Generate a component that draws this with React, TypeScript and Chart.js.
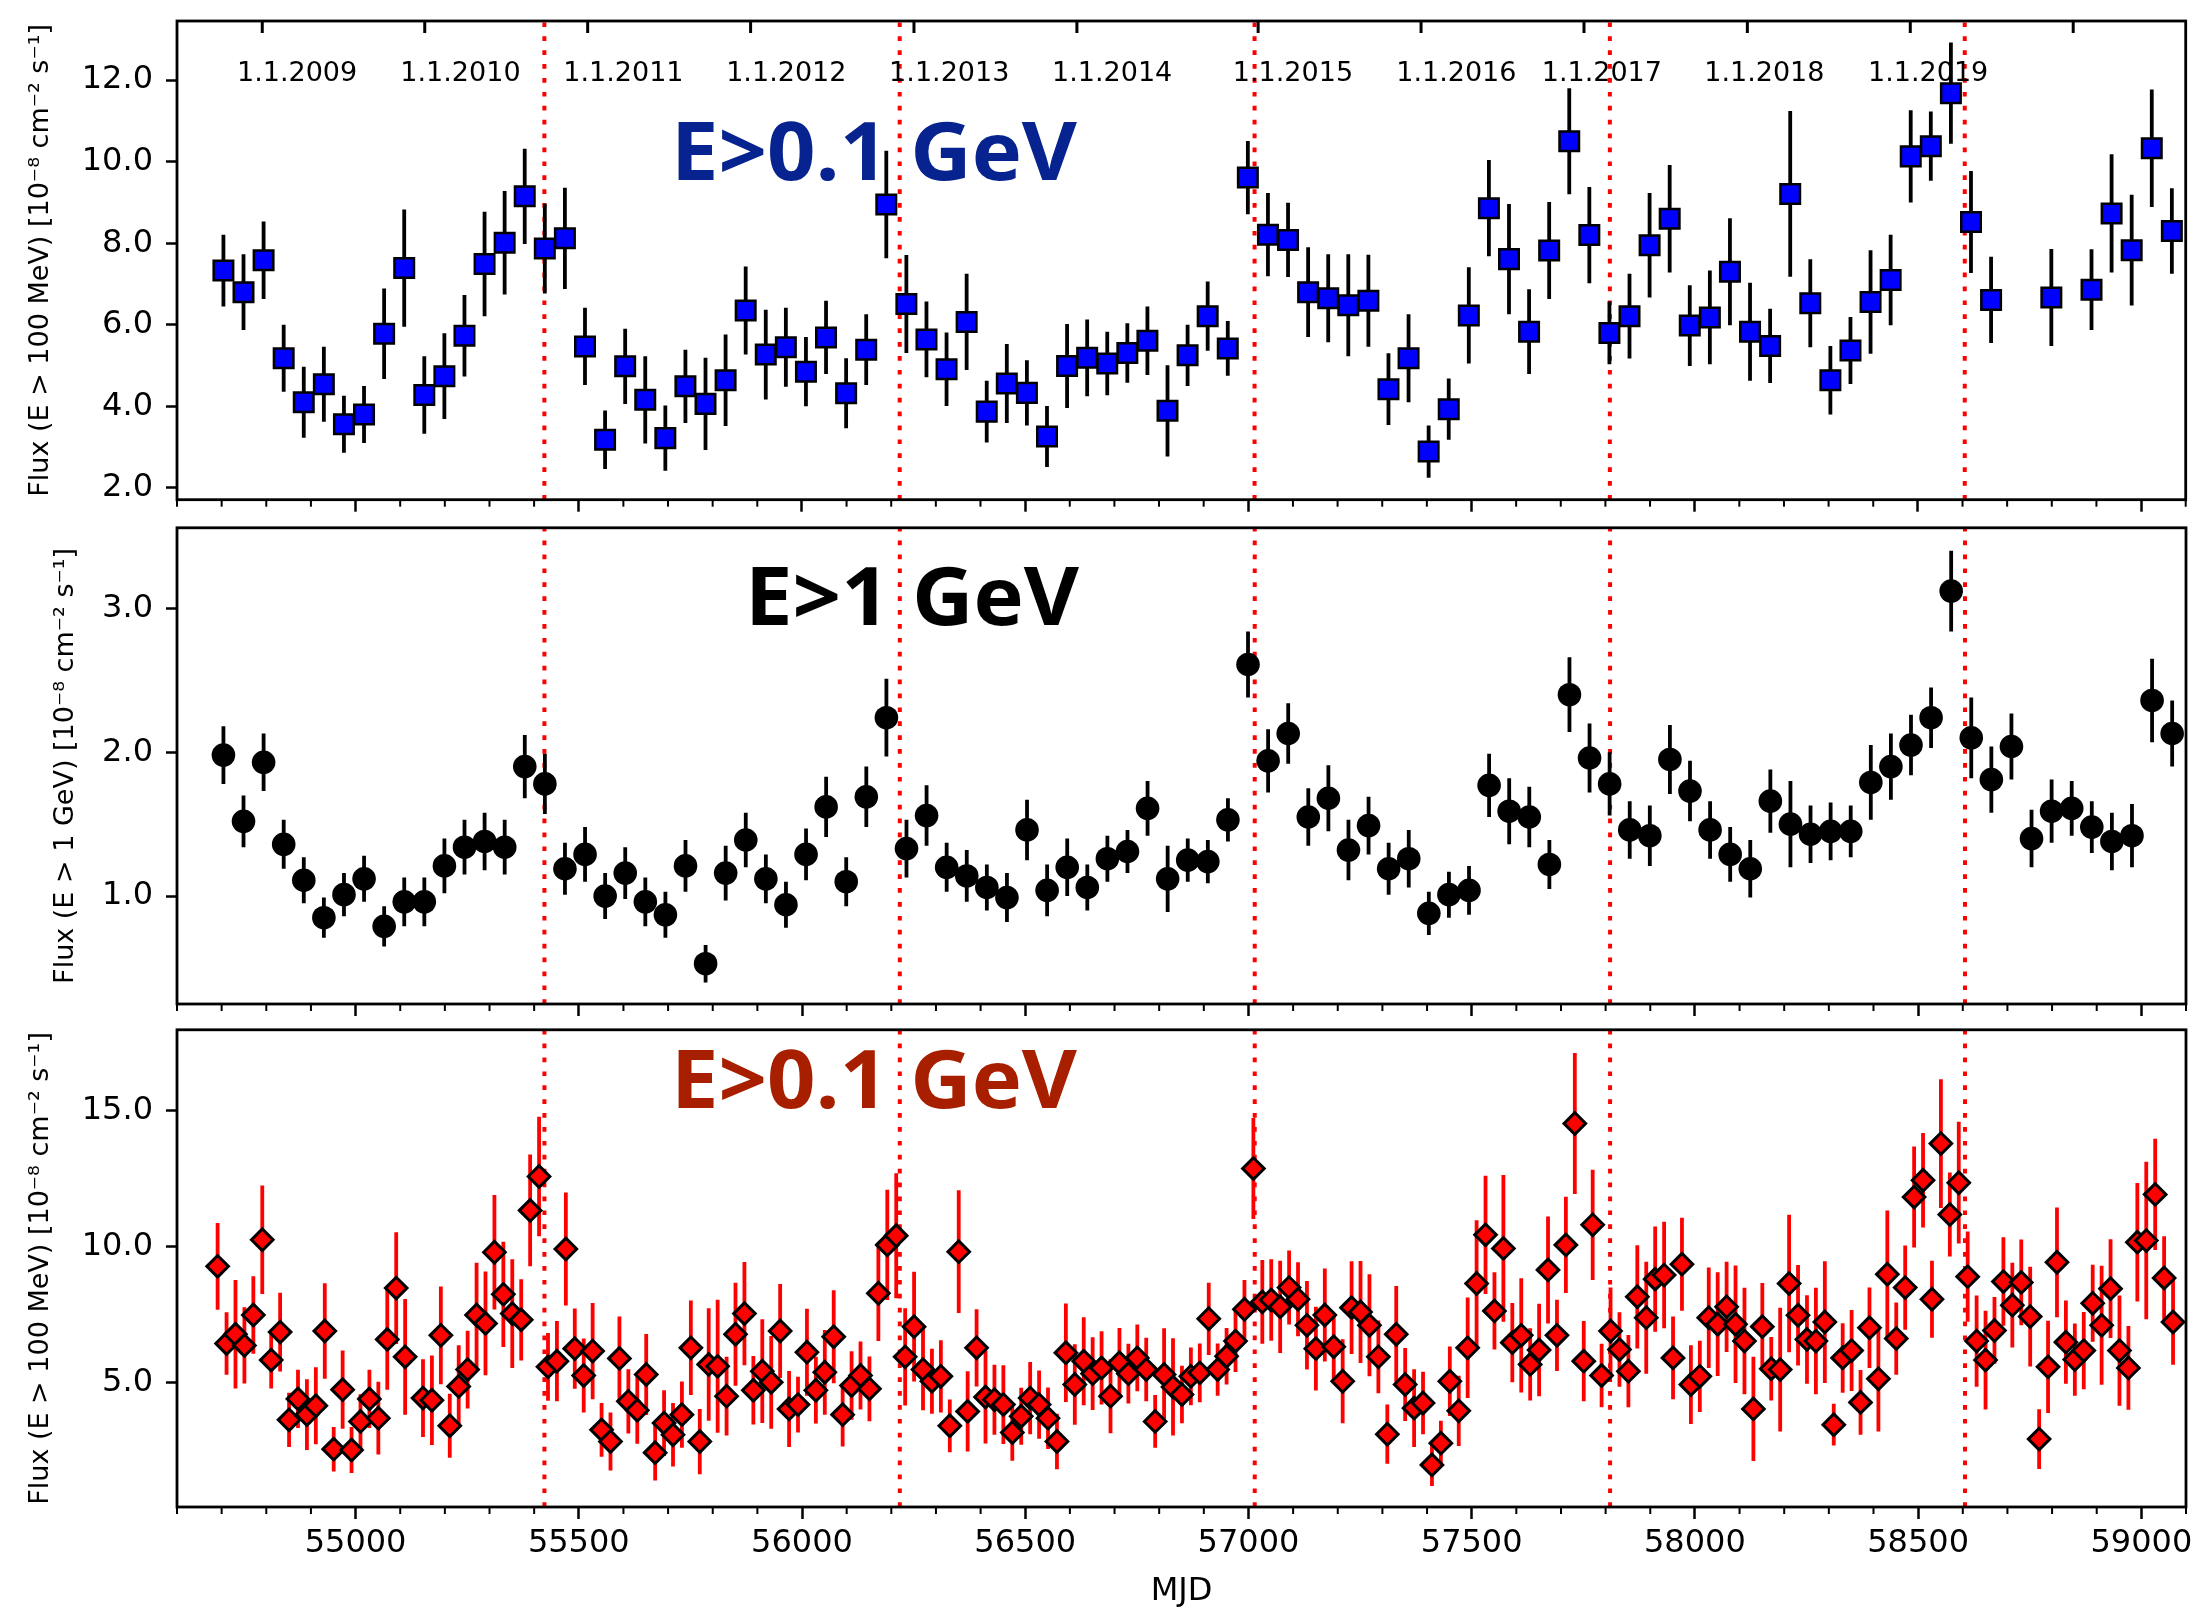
import React, { useEffect, useRef } from "react";
import { Chart, registerables } from "chart.js";

Chart.register(...registerables);

const FONT = "'DejaVu Sans', 'Liberation Sans', sans-serif";
const LABEL_FONT = "'Open Sans', 'Noto Sans', sans-serif";

// ---------- shared x axis (MJD) ----------
const MJD_MIN = 54600;
const MJD_MAX = 59100;
const MJD_TICKS = [55000, 55500, 56000, 56500, 57000, 57500, 58000, 58500, 59000];
const PERIOD_MJD = [55423, 56219, 57014, 57810, 58605];
const YEAR_TICK_MJD = [54791, 55155, 55520, 55885, 56251, 56616, 57022, 57387, 57752, 58118, 58483, 58848];
const YEAR_LABEL_MJD = [54869, 55235, 55600, 55965, 56330, 56695, 57100, 57466, 57792, 58156, 58523];
const YEAR_LABELS = ["1.1.2009", "1.1.2010", "1.1.2011", "1.1.2012", "1.1.2013", "1.1.2014", "1.1.2015", "1.1.2016", "1.1.2017", "1.1.2018", "1.1.2019"];

// ---------- panel 1 : E > 0.1 GeV, 45-day bins ----------
const P1_TICKS = [2, 4, 6, 8, 10, 12];
const P1_MJD = [
  54704, 54749, 54794, 54839, 54884, 54929, 54974, 55019, 55064, 55109,
  55154, 55199, 55244, 55289, 55334, 55379, 55424, 55469, 55514, 55559,
  55604, 55649, 55694, 55739, 55784, 55829, 55874, 55919, 55964, 56009,
  56054, 56099, 56144, 56189, 56234, 56279, 56324, 56369, 56414, 56459,
  56504, 56549, 56594, 56639, 56684, 56729, 56774, 56819, 56864, 56909,
  56954, 56999, 57044, 57089, 57134, 57179, 57224, 57269, 57314, 57359,
  57404, 57449, 57494, 57539, 57584, 57629, 57674, 57719, 57764, 57809,
  57854, 57899, 57944, 57989, 58034, 58079, 58124, 58169, 58214, 58259,
  58304, 58349, 58394, 58439, 58484, 58529, 58574, 58619, 58664,
  58799, 58889, 58934, 58979, 59024, 59069,
];
const P1_FLUX = [
  7.33, 6.80, 7.58, 5.18, 4.10, 4.54, 3.56, 3.80, 5.78, 7.39,
  4.28, 4.74, 5.73, 7.49, 8.01, 9.15, 7.87, 8.12, 5.47, 3.18,
  4.98, 4.16, 3.22, 4.49, 4.06, 4.64, 6.35, 5.27, 5.45, 4.85,
  5.69, 4.32, 5.39, 8.95, 6.51, 5.64, 4.91, 6.07, 3.87, 4.56,
  4.33, 3.26, 4.99, 5.19, 5.05, 5.31, 5.61, 3.89, 5.25, 6.21,
  5.42, 9.61, 8.21, 8.08, 6.80, 6.65, 6.48, 6.59, 4.42, 5.18,
  2.89, 3.93, 6.23, 8.86, 7.61, 5.83, 7.82, 10.50, 8.20, 5.80,
  6.21, 7.95, 8.60, 5.98, 6.18, 7.30, 5.83, 5.48, 9.21, 6.53,
  4.64, 5.37, 6.56, 7.10, 10.13, 10.38, 11.68, 8.52, 6.61,
  6.67, 6.86, 8.73, 7.83, 10.33, 8.30,
];
const P1_ERR = [
  0.88, 0.93, 0.95, 0.82, 0.87, 0.92, 0.70, 0.70, 1.11, 1.44,
  0.95, 1.05, 1.00, 1.28, 1.27, 1.17, 1.10, 1.24, 0.95, 0.72,
  0.92, 1.07, 0.80, 0.90, 1.13, 1.12, 1.08, 1.10, 0.97, 0.85,
  0.90, 0.86, 0.87, 1.32, 1.20, 0.93, 0.90, 1.18, 0.76, 0.97,
  0.80, 0.75, 1.03, 0.94, 0.78, 0.73, 0.84, 1.12, 0.75, 0.85,
  0.67, 0.90, 1.02, 0.91, 1.10, 1.08, 1.25, 1.13, 0.88, 1.08,
  0.64, 0.75, 1.18, 1.18, 1.35, 1.04, 1.19, 1.30, 1.18, 0.77,
  1.04, 1.28, 1.32, 0.99, 1.15, 1.31, 1.20, 0.91, 2.03, 1.08,
  0.84, 0.82, 1.27, 1.11, 1.13, 0.85, 1.24, 1.25, 1.06,
  1.19, 0.99, 1.45, 1.36, 1.44, 1.05,
];

// ---------- panel 2 : E > 1 GeV, 45-day bins ----------
const P2_TICKS = [1, 2, 3];
const P2_MJD = [
  54704, 54749, 54794, 54839, 54884, 54929, 54974, 55019, 55064, 55109,
  55154, 55199, 55244, 55289, 55334, 55379, 55424, 55469, 55514, 55559,
  55604, 55649, 55694, 55739, 55784, 55829, 55874, 55919, 55964, 56009,
  56054, 56099, 56144, 56189, 56234, 56279, 56324, 56369, 56414, 56459,
  56504, 56549, 56594, 56639, 56684, 56729, 56774, 56819, 56864, 56909,
  56954, 56999, 57044, 57089, 57134, 57179, 57224, 57269, 57314, 57359,
  57404, 57449, 57494, 57539, 57584, 57629, 57674, 57719, 57764, 57809,
  57854, 57899, 57944, 57989, 58034, 58079, 58124, 58169, 58214, 58259,
  58304, 58349, 58394, 58439, 58484, 58529, 58574, 58619, 58664, 58709,
  58754, 58799, 58844, 58889, 58934, 58979, 59024, 59069,
];
const P2_FLUX = [
  1.98, 1.52, 1.93, 1.36, 1.11, 0.85, 1.01, 1.12, 0.79, 0.96,
  0.96, 1.21, 1.34, 1.38, 1.34, 1.90, 1.78, 1.19, 1.29, 1.00,
  1.16, 0.96, 0.87, 1.21, 0.53, 1.16, 1.39, 1.12, 0.94, 1.29,
  1.62, 1.10, 1.69, 2.24, 1.33, 1.56, 1.20, 1.14, 1.06, 0.99,
  1.46, 1.04, 1.20, 1.06, 1.26, 1.31, 1.61, 1.12, 1.25, 1.24,
  1.53, 2.61, 1.94, 2.13, 1.55, 1.68, 1.32, 1.49, 1.19, 1.26,
  0.88, 1.01, 1.04, 1.77, 1.59, 1.55, 1.22, 2.40, 1.96, 1.78,
  1.46, 1.42, 1.95, 1.73, 1.46, 1.29, 1.19, 1.66, 1.50, 1.43,
  1.45, 1.45, 1.79, 1.90, 2.05, 2.24, 3.12, 2.10, 1.81, 2.04,
  1.40, 1.59, 1.61, 1.48, 1.38, 1.42, 2.36, 2.13,
];
const P2_ERR = [
  0.20, 0.18, 0.20, 0.17, 0.16, 0.14, 0.15, 0.16, 0.14, 0.17,
  0.17, 0.19, 0.19, 0.20, 0.19, 0.22, 0.21, 0.18, 0.19, 0.16,
  0.18, 0.17, 0.16, 0.18, 0.13, 0.19, 0.19, 0.17, 0.16, 0.18,
  0.21, 0.17, 0.21, 0.27, 0.20, 0.21, 0.17, 0.18, 0.16, 0.17,
  0.21, 0.18, 0.20, 0.16, 0.16, 0.15, 0.19, 0.23, 0.15, 0.15,
  0.15, 0.23, 0.22, 0.21, 0.20, 0.23, 0.21, 0.20, 0.18, 0.20,
  0.15, 0.16, 0.17, 0.22, 0.23, 0.21, 0.17, 0.26, 0.24, 0.22,
  0.20, 0.21, 0.24, 0.21, 0.20, 0.19, 0.20, 0.22, 0.30, 0.20,
  0.20, 0.18, 0.26, 0.23, 0.21, 0.21, 0.28, 0.28, 0.23, 0.23,
  0.20, 0.22, 0.19, 0.18, 0.20, 0.22, 0.29, 0.23,
];

// ---------- panel 3 : E > 0.1 GeV, 20-day bins ----------
const P3_TICKS = [5, 10, 15];
const P3_MJD = [
  54691, 54711, 54731, 54751, 54771, 54791, 54811, 54831, 54851, 54871,
  54891, 54911, 54931, 54951, 54971, 54991, 55011, 55031, 55051, 55071,
  55091, 55111, 55151, 55171, 55191, 55211, 55231, 55251, 55271,
  55291, 55311, 55331, 55351, 55371, 55391, 55411, 55431, 55451, 55471,
  55491, 55511, 55531, 55551, 55571, 55591, 55611, 55631, 55651, 55671,
  55691, 55711, 55731, 55751, 55771, 55791, 55811, 55831, 55851, 55871,
  55891, 55911, 55931, 55951, 55971, 55991, 56011, 56031, 56051, 56071,
  56091, 56111, 56131, 56151, 56171, 56191, 56211, 56231, 56251, 56271,
  56291, 56311, 56331, 56351, 56371, 56391, 56411, 56431, 56451, 56471,
  56491, 56511, 56531, 56551, 56571, 56591, 56611, 56631, 56651, 56671,
  56691, 56711, 56731, 56751, 56771, 56791, 56811, 56831, 56851, 56871,
  56891, 56911, 56931, 56951, 56971, 56991, 57011, 57031, 57051, 57071,
  57091, 57111, 57131, 57151, 57171, 57191, 57211, 57231, 57251, 57271,
  57291, 57311, 57331, 57351, 57371, 57391, 57411, 57431, 57451, 57471,
  57491, 57511, 57531, 57551, 57571, 57591, 57611, 57631, 57651, 57671,
  57691, 57711, 57731, 57751, 57771, 57791, 57811, 57831, 57851, 57871,
  57891, 57911, 57931, 57951, 57971, 57991, 58011, 58031, 58051, 58071,
  58091, 58111, 58131, 58151, 58171, 58191, 58211, 58231, 58251, 58271,
  58291, 58311, 58331, 58351, 58371, 58391, 58411, 58431, 58451, 58471,
  58491, 58511, 58531, 58551, 58571, 58591, 58611, 58631, 58651, 58671,
  58691, 58711, 58731, 58751, 58771, 58791, 58811, 58831, 58851, 58871,
  58891, 58911, 58931, 58951, 58971, 58991, 59011, 59031, 59051, 59071,
];
const P3_FLUX = [
  9.27, 6.43, 6.77, 6.36, 7.48, 10.25, 5.82, 6.85, 3.62, 4.39,
  3.81, 4.14, 6.89, 2.54, 4.73, 2.51, 3.56, 4.39, 3.68, 6.58,
  8.47, 5.94, 4.42, 4.34, 6.73, 3.40, 4.85, 5.47, 7.48,
  7.17, 9.79, 8.24, 7.53, 7.30, 11.33, 12.58, 5.57, 5.78, 9.91,
  6.24, 5.25, 6.15, 3.25, 2.82, 5.88, 4.30, 3.97, 5.29, 2.41,
  3.50, 3.07, 3.81, 6.27, 2.82, 5.66, 5.59, 4.49, 6.77, 7.53,
  4.71, 5.41, 5.00, 6.89, 4.02, 4.18, 6.11, 4.71, 5.37, 6.68,
  3.81, 4.88, 5.25, 4.76, 8.28, 10.06, 10.40, 5.94, 7.05, 5.47,
  5.04, 5.22, 3.40, 9.81, 3.93, 6.27, 4.46, 4.36, 4.18, 3.15,
  3.75, 4.42, 4.18, 3.68, 2.82, 6.09, 4.92, 5.78, 5.32, 5.53,
  4.49, 5.72, 5.32, 5.90, 5.47, 3.56, 5.29, 4.83, 4.55, 5.22,
  5.35, 7.34, 5.47, 5.96, 6.52, 7.69, 12.87, 7.96, 8.03, 7.78,
  8.49, 8.06, 7.10, 6.24, 7.48, 6.31, 5.04, 7.75, 7.59, 7.10,
  5.94, 3.09, 6.77, 4.92, 4.05, 4.24, 1.96, 2.76, 5.04, 3.95,
  6.27, 8.64, 10.43, 7.63, 9.93, 6.46, 6.73, 5.66, 6.19, 9.14,
  6.73, 10.06, 14.53, 5.78, 10.80, 5.25, 6.89, 6.21, 5.41, 8.15,
  7.38, 8.80, 8.95, 5.90, 9.35, 4.92, 5.22, 7.38, 7.14, 7.78,
  7.14, 6.52, 4.02, 7.05, 5.50, 5.47, 8.64, 7.47, 6.58, 6.52,
  7.22, 3.44, 5.90, 6.17, 4.26, 7.01, 5.13, 8.98, 6.61, 8.49,
  11.82, 12.44, 8.06, 13.79, 11.18, 12.35, 8.89, 6.52, 5.82, 6.91,
  8.71, 7.84, 8.68, 7.42, 2.91, 5.57, 9.42, 6.48, 5.84, 6.17,
  7.91, 7.10, 8.45, 6.17, 5.53, 10.16, 10.22, 11.92, 8.84, 7.22,
];
const P3_ERR = [
  1.60, 1.15, 2.00, 1.40, 1.43, 2.00, 1.05, 1.45, 1.00, 1.07,
  1.30, 1.42, 1.76, 0.82, 1.44, 0.85, 1.00, 1.07, 1.34, 1.85,
  2.06, 2.13, 1.43, 1.65, 1.80, 1.18, 1.52, 1.43, 1.92,
  1.91, 2.11, 1.94, 2.00, 1.50, 2.06, 2.20, 1.25, 1.48, 2.08,
  1.48, 1.36, 1.77, 0.99, 1.07, 1.54, 1.18, 1.23, 1.49, 1.02,
  1.21, 1.17, 1.22, 1.74, 1.20, 2.07, 2.45, 1.45, 1.90, 1.90,
  1.26, 1.91, 1.71, 1.73, 1.40, 1.03, 1.60, 1.23, 1.56, 1.71,
  1.17, 1.26, 1.25, 1.19, 1.76, 2.03, 2.30, 1.79, 2.02, 1.50,
  1.20, 1.33, 0.97, 2.26, 1.48, 1.42, 1.71, 1.29, 1.45, 1.04,
  1.05, 1.33, 1.26, 1.13, 1.02, 1.81, 1.48, 1.62, 1.34, 1.35,
  1.36, 1.28, 1.10, 1.23, 1.17, 0.97, 1.70, 1.79, 1.06, 1.06,
  1.08, 1.33, 0.96, 1.04, 1.14, 1.08, 1.86, 1.54, 1.50, 1.70,
  1.36, 1.36, 1.63, 1.54, 1.71, 1.23, 1.55, 1.71, 1.88, 1.88,
  1.34, 1.09, 1.78, 1.34, 1.43, 1.15, 0.78, 0.83, 1.28, 1.29,
  1.85, 2.33, 2.18, 1.42, 2.70, 1.46, 2.10, 1.33, 1.70, 1.97,
  1.31, 1.77, 2.60, 1.48, 2.03, 1.17, 1.60, 1.37, 1.33, 1.90,
  2.06, 1.94, 1.96, 1.52, 1.71, 1.45, 1.31, 1.85, 1.91, 1.66,
  2.16, 1.96, 1.92, 1.61, 1.17, 2.28, 2.53, 1.85, 1.63, 1.96,
  2.24, 0.77, 1.28, 1.49, 1.19, 1.48, 1.94, 2.35, 1.33, 1.55,
  1.86, 1.74, 1.42, 2.37, 1.55, 2.24, 1.66, 1.68, 1.82, 1.23,
  1.63, 1.56, 1.58, 1.84, 1.10, 1.70, 2.02, 1.53, 1.33, 1.42,
  1.42, 2.19, 1.82, 2.03, 1.54, 2.18, 2.90, 2.05, 1.54, 1.57,
];

// ---------- layout ----------
const PAGE_W = 2202;
const PLOT_LEFT = 177;
const PLOT_RIGHT = 2186;
const TICK_SIZE = 32;
const TITLE_SIZE = 27;

type Panel = {
  top: number; height: number; padTop: number; xAxisH: number;
  yMin: number; yMax: number; yTicks: number[];
  yTitle: string; yTitlePad: number;
  x: number[]; y: number[]; err: number[];
  pointStyle: string; radius: number; fill: string; edge: string; edgeWidth: number;
  barColor: string;
  label: string; labelColor: string; labelX: number; labelY: number; labelW: number;
  xLabels: boolean; yearAxis: boolean;
};

const PANELS: Panel[] = [
  {
    top: 0, height: 516, padTop: 21, xAxisH: 13,
    yMin: 1.71, yMax: 13.45, yTicks: P1_TICKS,
    yTitle: "Flux (E > 100 MeV) [10\u207B\u2078 cm\u207B\u00B2 s\u207B\u00B9]", yTitlePad: 25,
    x: P1_MJD, y: P1_FLUX, err: P1_ERR,
    pointStyle: "rect", radius: 13.8, fill: "#0000ff", edge: "#000000", edgeWidth: 2.5,
    barColor: "#000000",
    label: "E>0.1 GeV", labelColor: "#06238f", labelX: 671, labelY: 180, labelW: 406,
    xLabels: false, yearAxis: true,
  },
  {
    top: 516, height: 500, padTop: 7, xAxisH: 12,
    yMin: 0.25, yMax: 3.56, yTicks: P2_TICKS,
    yTitle: "Flux (E > 1 GeV) [10\u207B\u2078 cm\u207B\u00B2 s\u207B\u00B9]", yTitlePad: 50,
    x: P2_MJD, y: P2_FLUX, err: P2_ERR,
    pointStyle: "circle", radius: 11.8, fill: "#000000", edge: "#000000", edgeWidth: 0,
    barColor: "#000000",
    label: "E>1 GeV", labelColor: "#000000", labelX: 745, labelY: 109, labelW: 334,
    xLabels: false, yearAxis: false,
  },
  {
    top: 1016, height: 599, padTop: 9, xAxisH: 108,
    yMin: 0.41, yMax: 17.98, yTicks: P3_TICKS,
    yTitle: "Flux (E > 100 MeV) [10\u207B\u2078 cm\u207B\u00B2 s\u207B\u00B9]", yTitlePad: 25,
    x: P3_MJD, y: P3_FLUX, err: P3_ERR,
    pointStyle: "rectRot", radius: 10.8, fill: "#ff0000", edge: "#000000", edgeWidth: 3,
    barColor: "#ff0000",
    label: "E>0.1 GeV", labelColor: "#a81f00", labelX: 671, labelY: 92, labelW: 406,
    xLabels: true, yearAxis: false,
  },
];

function zeroPadding(s: any) {
  s.paddingLeft = 0;
  s.paddingRight = 0;
  s.paddingTop = 0;
  s.paddingBottom = 0;
}

function buildChart(canvas: HTMLCanvasElement, p: Panel) {
  const points = p.x.map((x, i) => ({ x, y: p.y[i] }));

  const periodLines = {
    id: "periodLines",
    beforeDatasetsDraw(chart: any) {
      const { ctx, chartArea } = chart;
      const xs = chart.scales.x;
      ctx.save();
      ctx.strokeStyle = "#ff0000";
      ctx.lineWidth = 4;
      ctx.setLineDash([4.7, 9.2]);
      PERIOD_MJD.forEach((m) => {
        const px = xs.getPixelForValue(m);
        ctx.beginPath();
        ctx.moveTo(px, chartArea.bottom);
        ctx.lineTo(px, chartArea.top);
        ctx.stroke();
      });
      ctx.restore();
    },
  };

  const errorBars = {
    id: "errorBars",
    beforeDatasetsDraw(chart: any) {
      const { ctx, chartArea } = chart;
      const ys = chart.scales.y;
      const meta = chart.getDatasetMeta(0);
      ctx.save();
      ctx.beginPath();
      ctx.rect(chartArea.left, chartArea.top, chartArea.right - chartArea.left, chartArea.bottom - chartArea.top);
      ctx.clip();
      ctx.strokeStyle = p.barColor;
      ctx.lineWidth = 3.8;
      ctx.lineCap = "butt";
      meta.data.forEach((el: any, i: number) => {
        const y1 = ys.getPixelForValue(p.y[i] - p.err[i]);
        const y2 = ys.getPixelForValue(p.y[i] + p.err[i]);
        ctx.beginPath();
        ctx.moveTo(el.x, y1);
        ctx.lineTo(el.x, y2);
        ctx.stroke();
      });
      ctx.restore();
    },
  };

  const bigLabel = {
    id: "bigLabel",
    afterDatasetsDraw(chart: any) {
      const { ctx } = chart;
      ctx.save();
      ctx.font = `700 80px ${LABEL_FONT}`;
      ctx.fillStyle = p.labelColor;
      ctx.textBaseline = "alphabetic";
      ctx.textAlign = "left";
      const w = ctx.measureText(p.label).width;
      ctx.translate(p.labelX, p.labelY);
      ctx.scale(p.labelW / w, 1);
      ctx.fillText(p.label, 0, 0);
      ctx.restore();
    },
  };

  const frame = {
    id: "frame",
    afterDraw(chart: any) {
      const { ctx, chartArea } = chart;
      const xs = chart.scales.x;
      ctx.save();
      // minor ticks every 100 days
      ctx.strokeStyle = "#000";
      ctx.lineWidth = 2;
      for (let m = Math.ceil(MJD_MIN / 100) * 100; m <= MJD_MAX; m += 100) {
        if (m % 500 === 0) continue;
        const px = xs.getPixelForValue(m);
        ctx.beginPath();
        ctx.moveTo(px, chartArea.bottom);
        ctx.lineTo(px, chartArea.bottom + 7);
        ctx.stroke();
      }
      // calendar-year axis on top of the first panel
      if (p.yearAxis) {
        ctx.lineWidth = 3;
        YEAR_TICK_MJD.forEach((m) => {
          const px = xs.getPixelForValue(m);
          ctx.beginPath();
          ctx.moveTo(px, chartArea.top);
          ctx.lineTo(px, chartArea.top + 12);
          ctx.stroke();
        });
        ctx.fillStyle = "#000";
        ctx.font = `27px ${FONT}`;
        ctx.textAlign = "center";
        ctx.textBaseline = "alphabetic";
        YEAR_LABELS.forEach((t, i) => {
          ctx.fillText(t, xs.getPixelForValue(YEAR_LABEL_MJD[i]), chartArea.top + 60);
        });
      }
      // axes box
      ctx.lineWidth = 2.8;
      ctx.strokeRect(chartArea.left, chartArea.top, chartArea.right - chartArea.left, chartArea.bottom - chartArea.top);
      ctx.restore();
    },
  };

  return new Chart(canvas, {
    type: "scatter",
    data: {
      datasets: [
        {
          data: points,
          pointStyle: p.pointStyle as any,
          pointRadius: p.radius,
          pointBackgroundColor: p.fill,
          pointBorderColor: p.edge,
          pointBorderWidth: p.edgeWidth,
          showLine: false,
        },
      ],
    },
    options: {
      animation: false,
      responsive: false,
      maintainAspectRatio: false,
      devicePixelRatio: 1,
      events: [],
      layout: { padding: { top: p.padTop, right: PAGE_W - PLOT_RIGHT, left: 0, bottom: 0 } },
      plugins: { legend: { display: false }, tooltip: { enabled: false }, title: { display: false } },
      scales: {
        x: {
          type: "linear",
          min: MJD_MIN,
          max: MJD_MAX,
          afterBuildTicks: (s: any) => { s.ticks = MJD_TICKS.map((v) => ({ value: v })); },
          afterFit: (s: any) => { s.height = p.xAxisH; zeroPadding(s); },
          grid: { display: true, drawOnChartArea: false, drawTicks: true, tickLength: 12, tickWidth: 2.5, tickColor: "#000" },
          border: { display: false },
          ticks: {
            color: "#000",
            font: { family: FONT, size: TICK_SIZE },
            padding: 5,
            maxRotation: 0,
            autoSkip: false,
            callback: (v: any) => (p.xLabels ? String(v) : ""),
          },
          title: {
            display: p.xLabels,
            text: "MJD",
            color: "#000",
            font: { family: FONT, size: TICK_SIZE },
            padding: { top: 0, bottom: 4 },
          },
        },
        y: {
          type: "linear",
          min: p.yMin,
          max: p.yMax,
          afterBuildTicks: (s: any) => { s.ticks = p.yTicks.map((v) => ({ value: v })); },
          afterFit: (s: any) => { s.width = PLOT_LEFT; zeroPadding(s); },
          grid: { display: true, drawOnChartArea: false, drawTicks: true, tickLength: 11, tickWidth: 2.5, tickColor: "#000" },
          border: { display: false },
          ticks: {
            color: "#000",
            font: { family: FONT, size: TICK_SIZE },
            padding: 13,
            autoSkip: false,
            callback: (v: any) => Number(v).toFixed(1),
          },
          title: {
            display: true,
            text: p.yTitle,
            color: "#000",
            font: { family: FONT, size: TITLE_SIZE },
            padding: { top: p.yTitlePad, bottom: 0 },
          },
        },
      },
    } as any,
    plugins: [periodLines, errorBars, bigLabel, frame],
  });
}

export default function App() {
  const r1 = useRef<HTMLCanvasElement>(null);
  const r2 = useRef<HTMLCanvasElement>(null);
  const r3 = useRef<HTMLCanvasElement>(null);

  useEffect(() => {
    const refs = [r1, r2, r3];
    const charts = PANELS.map((p, i) => buildChart(refs[i].current as HTMLCanvasElement, p));
    return () => charts.forEach((c) => c.destroy());
  }, []);

  const refs = [r1, r2, r3];
  return (
    <div style={{ position: "absolute", left: 0, top: 0, width: PAGE_W, height: 1615, background: "#ffffff" }}>
      {PANELS.map((p, i) => (
        <canvas
          key={i}
          ref={refs[i]}
          width={PAGE_W}
          height={p.height}
          style={{ position: "absolute", left: 0, top: p.top, width: PAGE_W, height: p.height }}
        />
      ))}
    </div>
  );
}
